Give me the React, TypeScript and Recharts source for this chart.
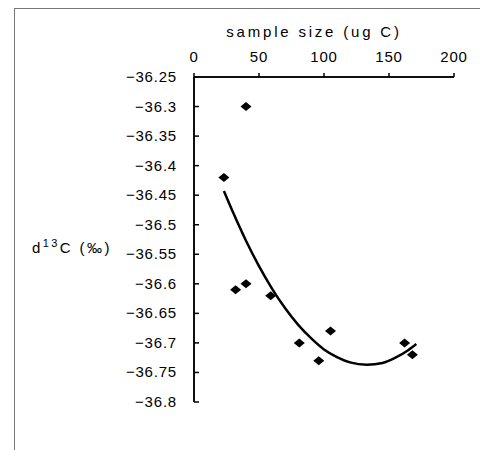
import {
  ComposedChart,
  Scatter,
  Line,
  XAxis,
  YAxis,
  ReferenceLine,
} from "recharts";

// measured points: sample size (ug C) vs d13C
const sizes = [23, 40, 32, 40, 59, 81, 96, 105, 162, 168];
const d13c = [-36.42, -36.3, -36.61, -36.6, -36.62, -36.7, -36.73, -36.68, -36.7, -36.72];

// trend curve
const curveX = [23, 30, 40, 50, 60, 70, 80, 90, 100, 110, 120, 133, 145, 155, 165, 171];
const curveY = [
  -36.443, -36.479, -36.527, -36.57, -36.608, -36.641, -36.669, -36.692,
  -36.711, -36.724, -36.733, -36.737, -36.734, -36.725, -36.712, -36.702,
];

const xTicks = [0, 50, 100, 150, 200];
const yTicks = [
  -36.8, -36.75, -36.7, -36.65, -36.6, -36.55, -36.5, -36.45, -36.4, -36.35, -36.3, -36.25,
];

const points = sizes.map((x, i) => ({ x, y: d13c[i] }));
const curve = curveX.map((x, i) => ({ x, y: curveY[i] }));

const font = "'Liberation Sans', Arial, sans-serif";
const minus = (v: number) => String(v).replace("-", "\u2212");

const Diamond = (props: any) => {
  const { cx, cy } = props;
  if (cx == null || cy == null) return null;
  return (
    <polygon
      points={`${cx - 5.5},${cy} ${cx},${cy - 4.5} ${cx + 5.5},${cy} ${cx},${cy + 4.5}`}
      fill="#000"
    />
  );
};

// x ticks stick out above the axis line
const XTick = (props: any) => {
  const { x, y, payload } = props;
  const axisY = y + 8;
  return (
    <g>
      <line x1={x} x2={x} y1={axisY} y2={axisY - 4} stroke="#000" strokeWidth={1.5} />
      <text
        x={x}
        y={y}
        dy={-7}
        textAnchor="middle"
        fontSize={15}
        fontFamily={font}
        letterSpacing={0.8}
        fill="#000"
      >
        {payload.value}
      </text>
    </g>
  );
};

// y ticks point into the plot
const YTick = (props: any) => {
  const { x, y, payload } = props;
  const axisX = x + 17;
  return (
    <g>
      <line x1={axisX} x2={axisX + 5} y1={y} y2={y} stroke="#000" strokeWidth={1.5} />
      <text
        x={x}
        y={y}
        dy={5}
        textAnchor="end"
        fontSize={15}
        fontFamily={font}
        letterSpacing={0.8}
        fill="#000"
      >
        {minus(payload.value)}
      </text>
    </g>
  );
};

const YLabel = () => (
  <text x={32} y={253} fontSize={15} fontFamily={font} letterSpacing={2.4} fill="#000">
    d
    <tspan dy={-6} fontSize={11}>
      13
    </tspan>
    <tspan dy={6}>C (‰)</tspan>
  </text>
);

const XLabel = () => (
  <text
    x={314}
    y={37}
    textAnchor="middle"
    fontSize={15}
    fontFamily={font}
    letterSpacing={2.8}
    fill="#000"
  >
    sample size (ug C)
  </text>
);

export default function App() {
  return (
    <div style={{ position: "absolute", left: 0, top: 0, width: 480, height: 450, background: "#fff" }}>
      <div
        style={{
          position: "absolute",
          left: 14,
          top: 8,
          width: 466,
          height: 442,
          borderLeft: "1px solid #777",
          borderTop: "1px solid #777",
        }}
      />
      <ComposedChart
        width={480}
        height={450}
        margin={{ top: 47, right: 26, bottom: 48, left: 134 }}
        style={{ position: "absolute", left: 0, top: 0 }}
      >
        <XAxis
          dataKey="x"
          type="number"
          orientation="top"
          domain={[0, 200]}
          ticks={xTicks}
          height={30}
          axisLine={{ stroke: "#000", strokeWidth: 1.5 }}
          tickLine={false}
          tickSize={0}
          tickMargin={8}
          tick={XTick}
          interval={0}
          label={{ content: XLabel }}
        />
        <YAxis
          dataKey="y"
          type="number"
          domain={[-36.8, -36.25]}
          ticks={yTicks}
          width={60}
          axisLine={{ stroke: "#000", strokeWidth: 1.5 }}
          tickLine={false}
          tickSize={0}
          tickMargin={17}
          tick={YTick}
          interval={0}
          label={{ content: YLabel }}
        />
        <ReferenceLine y={-36.25} stroke="#000" strokeWidth={1.5} />
        <ReferenceLine x={0} stroke="#000" strokeWidth={1.5} />
        <Line
          data={curve}
          dataKey="y"
          type="monotone"
          stroke="#000"
          strokeWidth={2.5}
          dot={false}
          isAnimationActive={false}
        />
        <Scatter data={points} dataKey="y" shape={Diamond} isAnimationActive={false} />
      </ComposedChart>
    </div>
  );
}
